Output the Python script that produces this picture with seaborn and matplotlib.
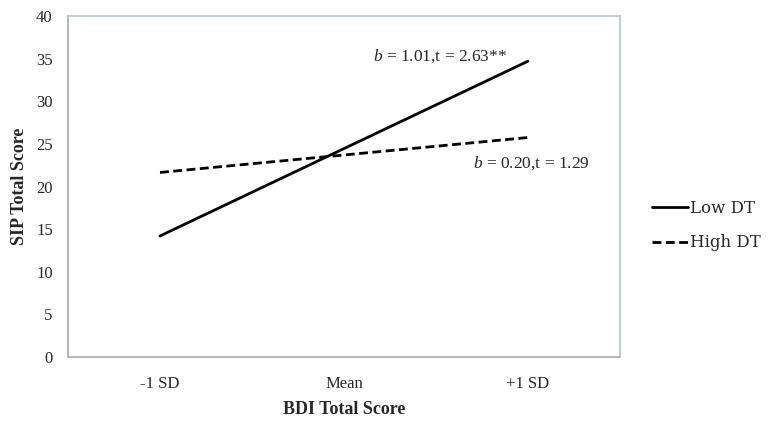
import matplotlib
matplotlib.use("Agg")
import matplotlib.pyplot as plt
import seaborn as sns
import pandas as pd

categories = ["-1 SD", "Mean", "+1 SD"]
low_dt = [14.2, 24.45, 34.7]
high_dt = [21.65, 23.7, 25.75]
groups = ["Low DT", "High DT"]

df = pd.DataFrame({
    "x": list(range(3)) * 2,
    "y": low_dt + high_dt,
    "group": [groups[0]] * 3 + [groups[1]] * 3,
})

sns.set_style("white")
plt.rcParams['font.family'] = ['Liberation Serif', 'DejaVu Serif']
plt.rcParams['mathtext.fontset'] = 'custom'
plt.rcParams['mathtext.it'] = 'Liberation Serif:italic'
plt.rcParams['mathtext.rm'] = 'Liberation Serif'

fig = plt.figure(figsize=(7.73, 4.22), dpi=100)
ax = fig.add_axes([0.088, 0.154, 0.714, 0.808])

sns.lineplot(data=df, x="x", y="y", style="group", style_order=groups,
             dashes={"Low DT": "", "High DT": (3.2, 1.6)},
             color="black", linewidth=2.0, ax=ax, legend=True)

ax.set_xlim(-0.5, 2.5)
ax.set_ylim(0, 40)
ax.set_yticks(range(0, 41, 5))
ax.set_xticks(range(3))
ax.set_xticklabels(categories)
ax.tick_params(axis="y", direction="out", length=3, color="#b0b8bc", labelsize=12, pad=8)
ax.tick_params(axis="x", length=0, labelsize=12, pad=14)
for s in ax.spines.values():
    s.set_color("#b8c4c8")
    s.set_linewidth(1.2)
ax.spines["left"].set_color("#a8acae")
ax.spines["bottom"].set_color("#a8acae")

ax.set_xlabel("BDI Total Score", fontsize=13, fontweight="bold", labelpad=6)
ax.set_ylabel("SIP Total Score", fontsize=13, fontweight="bold", labelpad=6)

ax.text(1.52, 35.35, r"$b$ = 1.01,t = 2.63**", fontsize=12.5, ha="center", va="center")
ax.text(2.02, 22.8, r"$b$ = 0.20,t = 1.29", fontsize=12.5, ha="center", va="center")

leg = ax.legend(loc="center left", bbox_to_anchor=(1.03, 0.385), frameon=False,
                fontsize=12, handlelength=2.2, handletextpad=0.1, labelspacing=1.05)
for t in leg.get_texts():
    t.set_family("DejaVu Serif")

fig.savefig("out.png", dpi=100)
